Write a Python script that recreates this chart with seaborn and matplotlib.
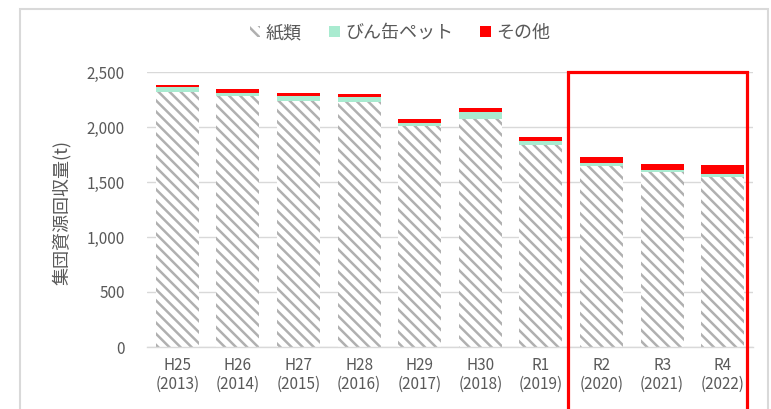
import matplotlib
matplotlib.use('Agg')
import matplotlib.pyplot as plt
import seaborn as sns
import pandas as pd
from matplotlib.patches import Rectangle, Patch

categories = ['H25\n(2013)', 'H26\n(2014)', 'H27\n(2015)', 'H28\n(2016)', 'H29\n(2017)',
              'H30\n(2018)', 'R1\n(2019)', 'R2\n(2020)', 'R3\n(2021)', 'R4\n(2022)']
paper = [2318, 2282, 2239, 2230, 2009, 2070, 1836, 1645, 1590, 1545]
bottles = [43, 27, 45, 43, 30, 64, 40, 25, 22, 28]
other = [18, 36, 22, 25, 30, 36, 36, 60, 55, 82]
series_names = ['紙類', 'びん缶ペット', 'その他']
yticks = [0, 500, 1000, 1500, 2000, 2500]

sns.set_theme(style='white')
plt.rcParams['font.family'] = ['Noto Sans CJK JP', 'DejaVu Sans']
plt.rcParams['hatch.linewidth'] = 1.8

GRAY_TXT = '#595959'
HATCH = '#b0b0b0'
GREEN = '#A9EBD0'
RED = '#FF0000'

df = pd.DataFrame({'cat': categories, 'paper': paper, 'bottles': bottles, 'other': other})
df['pb'] = df['paper'] + df['bottles']
df['total'] = df['pb'] + df['other']

fig = plt.figure(figsize=(7.71, 4.09), dpi=100)
ax = fig.add_axes([147 / 771, 1 - 347 / 409, 606 / 771, 275 / 409])

sns.barplot(data=df, x='cat', y='total', color=RED, saturation=1, width=0.71,
            errorbar=None, linewidth=0, ax=ax)
sns.barplot(data=df, x='cat', y='pb', color=GREEN, saturation=1, width=0.71,
            errorbar=None, linewidth=0, ax=ax)
n2 = len(ax.patches)
sns.barplot(data=df, x='cat', y='paper', color='white', saturation=1, width=0.71,
            errorbar=None, linewidth=0, ax=ax)
for p in ax.patches[n2:]:
    p.set_hatch('\\\\\\')
    p.set_edgecolor(HATCH)
    p.set_linewidth(0)

ax.set_ylim(0, 2500)
ax.set_yticks(yticks)
ax.set_yticklabels([f'{v:,}' for v in yticks])
ax.yaxis.grid(True, color='#d9d9d9', linewidth=1)
ax.set_axisbelow(True)
for s in ['top', 'right', 'left']:
    ax.spines[s].set_visible(False)
ax.spines['bottom'].set_color('#d9d9d9')
ax.spines['bottom'].set_linewidth(1)
ax.tick_params(axis='both', length=0, colors=GRAY_TXT, labelsize=11)
ax.tick_params(axis='x', pad=7)
ax.tick_params(axis='y', pad=16)
ax.set_xlabel('')
ax.set_ylabel('集団資源回収量(t)', color=GRAY_TXT, fontsize=13)
ax.yaxis.set_label_coords((71 - 147) / 606, 0.49)

handles = [Patch(facecolor='white', edgecolor=HATCH, hatch='\\\\\\', linewidth=0),
           Patch(facecolor=GREEN, linewidth=0),
           Patch(facecolor=RED, linewidth=0)]
leg = fig.legend(handles, series_names, loc='center', bbox_to_anchor=(400 / 771, 1 - 33 / 409),
                 ncol=3, frameon=False, fontsize=13, handlelength=0.6, handleheight=0.6,
                 handletextpad=0.3, columnspacing=1.5)
for t in leg.get_texts():
    t.set_color(GRAY_TXT)

# outer frame
fig.patches.append(Rectangle((20 / 771, -0.05), (768 - 20) / 771, 1 - 9 / 409 + 0.05,
                             transform=fig.transFigure, fill=False, edgecolor='#d9d9d9',
                             linewidth=1.5))
# red highlight box
fig.patches.append(Rectangle((568 / 771, -0.05), (747 - 568) / 771, 1 - 72 / 409 + 0.05,
                             transform=fig.transFigure, fill=False, edgecolor=RED,
                             linewidth=2.3))

fig.savefig('out.png', dpi=100)
